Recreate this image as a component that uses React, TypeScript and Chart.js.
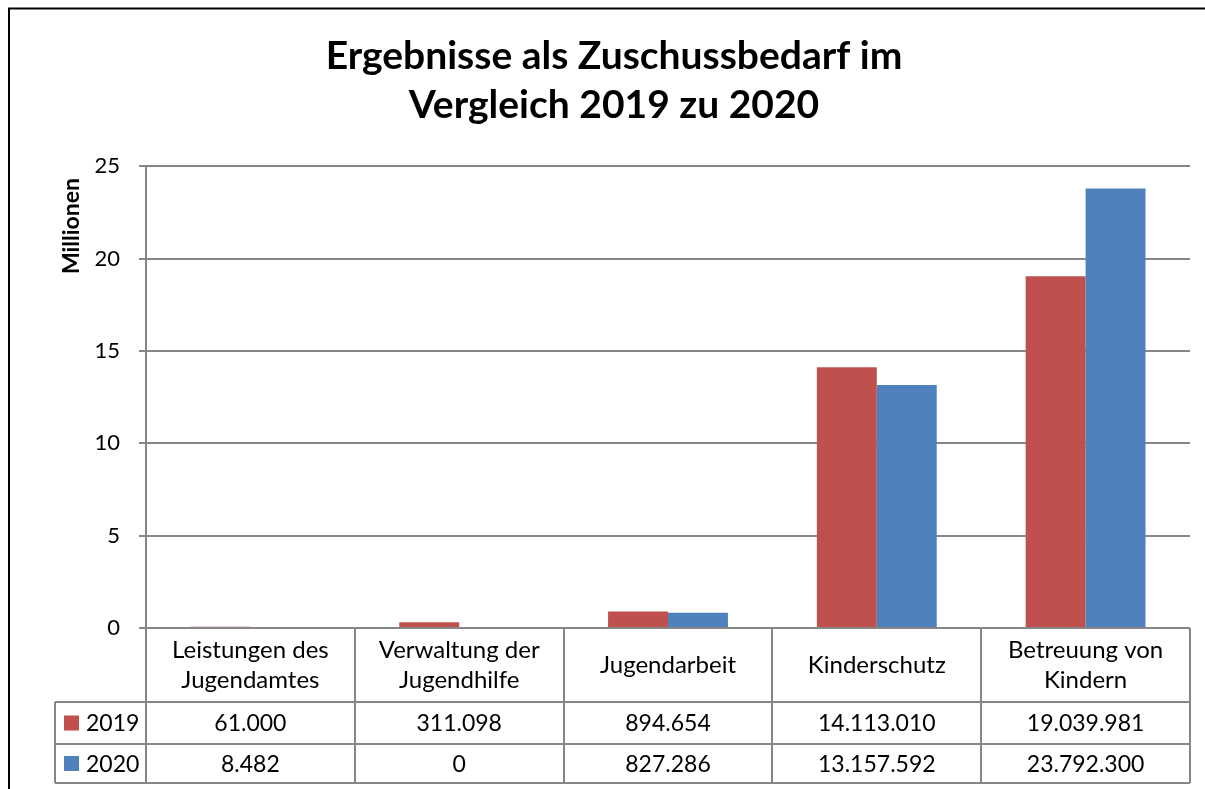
import React, { useEffect, useRef } from "react";
import { Chart, registerables } from "chart.js";

Chart.register(...registerables);

const title = ["Ergebnisse als Zuschussbedarf im", "Vergleich 2019 zu 2020"];
const categories: string[][] = [
  ["Leistungen des", "Jugendamtes"],
  ["Verwaltung der", "Jugendhilfe"],
  ["Jugendarbeit"],
  ["Kinderschutz"],
  ["Betreuung von", "Kindern"],
];
const seriesNames = ["2019", "2020"];
const values2019 = [61000, 311098, 894654, 14113010, 19039981];
const values2020 = [8482, 0, 827286, 13157592, 23792300];
const yTicks = [0, 5, 10, 15, 20, 25];
const yAxisTitle = "Millionen";

const RED = "#C0504D";
const BLUE = "#4F81BD";
const GRID = "#868686";
const FONT = "Lato, 'Open Sans', sans-serif";

function fmtDE(n: number): string {
  return String(Math.round(n)).replace(/\B(?=(\d{3})+(?!\d))/g, ".");
}

const tablePlugin = {
  id: "dataTable",
  afterDraw(chart: any) {
    const ctx = chart.ctx as CanvasRenderingContext2D;
    const area = chart.chartArea;
    const x = chart.scales.x;
    const n = categories.length;
    const step = (area.right - area.left) / n;
    const top = area.bottom;
    const hdrBottom = top + 74;
    const r1Bottom = hdrBottom + 42;
    const r2Bottom = r1Bottom + 39;
    const legLeft = 55;

    ctx.save();
    // outer border of chart object
    ctx.strokeStyle = "#000";
    ctx.lineWidth = 2;
    ctx.beginPath();
    ctx.moveTo(9, 800);
    ctx.lineTo(9, 8.5);
    ctx.lineTo(1300, 8.5);
    ctx.stroke();

    // y-axis title
    ctx.save();
    ctx.translate(72, 226);
    ctx.rotate(-Math.PI / 2);
    ctx.fillStyle = "#000";
    ctx.font = `bold 23px ${FONT}`;
    ctx.textAlign = "center";
    ctx.textBaseline = "middle";
    ctx.fillText(yAxisTitle, 0, 0);
    ctx.restore();

    // table lines
    ctx.strokeStyle = GRID;
    ctx.lineWidth = 2;
    ctx.beginPath();
    ctx.moveTo(area.left, top);
    ctx.lineTo(area.right, top);
    for (const yy of [hdrBottom, r1Bottom, r2Bottom]) {
      ctx.moveTo(legLeft, yy);
      ctx.lineTo(area.right, yy);
    }
    ctx.moveTo(legLeft, hdrBottom);
    ctx.lineTo(legLeft, r2Bottom);
    for (let i = 0; i <= n; i++) {
      const xx = Math.round(area.left + i * step);
      ctx.moveTo(xx, top);
      ctx.lineTo(xx, r2Bottom);
    }
    ctx.stroke();

    // header labels
    ctx.fillStyle = "#000";
    ctx.textAlign = "center";
    ctx.textBaseline = "middle";
    ctx.font = `24px ${FONT}`;
    const hdrMid = (top + hdrBottom) / 2;
    categories.forEach((lines, i) => {
      const cx = x.getPixelForValue(i);
      const lh = 30;
      const y0 = hdrMid - ((lines.length - 1) * lh) / 2;
      lines.forEach((ln, j) => ctx.fillText(ln, cx, y0 + j * lh));
    });

    // rows
    const rows = [
      { name: seriesNames[0], color: RED, vals: values2019, mid: (hdrBottom + r1Bottom) / 2 },
      { name: seriesNames[1], color: BLUE, vals: values2020, mid: (r1Bottom + r2Bottom) / 2 },
    ];
    ctx.font = `23px ${FONT}`;
    rows.forEach((r) => {
      ctx.fillStyle = r.color;
      ctx.fillRect(64, r.mid - 7.5, 15, 15);
      ctx.fillStyle = "#000";
      ctx.textAlign = "left";
      ctx.fillText(r.name, 86, r.mid + 1);
      ctx.textAlign = "center";
      r.vals.forEach((v, i) => {
        ctx.fillText(fmtDE(v), x.getPixelForValue(i), r.mid + 1);
      });
    });
    ctx.restore();
  },
};

export default function App() {
  const ref = useRef<HTMLCanvasElement>(null);
  useEffect(() => {
    let chart: Chart | null = null;
    let cancelled = false;
    const make = () => {
      if (cancelled || !ref.current) return;
      chart = new Chart(ref.current, {
        type: "bar",
        data: {
          labels: categories,
          datasets: [
            {
              label: seriesNames[0],
              data: values2019.map((v) => v / 1e6),
              backgroundColor: RED,
              categoryPercentage: 0.574,
              barPercentage: 1,
            },
            {
              label: seriesNames[1],
              data: values2020.map((v) => v / 1e6),
              backgroundColor: BLUE,
              categoryPercentage: 0.574,
              barPercentage: 1,
            },
          ],
        },
        options: {
          animation: false,
          responsive: false,
          layout: { padding: { left: 38, right: 15, top: 0, bottom: 161 } },
          plugins: {
            legend: { display: false },
            tooltip: { enabled: false },
            title: {
              display: true,
              text: title,
              color: "#000",
              font: { family: FONT, size: 39, weight: "bold", lineHeight: 1.26 },
              padding: { top: 32, bottom: 36 },
            },
          },
          scales: {
            x: { display: false },
            y: {
              min: 0,
              max: 25,
              afterFit: (s: any) => {
                s.width = 108;
              },
              afterBuildTicks: (s: any) => {
                s.ticks = yTicks.map((v) => ({ value: v }));
              },
              ticks: {
                color: "#000",
                font: { family: FONT, size: 22 },
                padding: 19,
              },
              grid: { color: GRID, lineWidth: 2, tickLength: 7, drawTicks: true },
              border: { display: true, color: GRID, width: 2 },
            },
          },
        },
        plugins: [tablePlugin],
      });
    };
    const fonts = (document as any).fonts;
    if (fonts && fonts.load) {
      Promise.all([fonts.load(`bold 39px Lato`), fonts.load(`22px Lato`)])
        .catch(() => null)
        .then(make);
    } else make();
    return () => {
      cancelled = true;
      if (chart) chart.destroy();
    };
  }, []);
  return (
    <div style={{ position: "absolute", left: 0, top: 0, width: 1205, height: 789, background: "#fff" }}>
      <canvas ref={ref} width={1205} height={789} />
    </div>
  );
}
